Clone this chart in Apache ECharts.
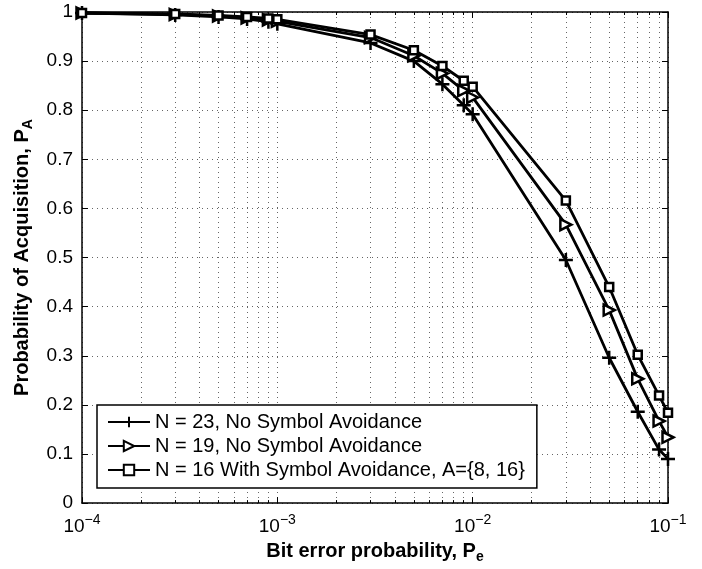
<!DOCTYPE html>
<html>
<head>
<meta charset="utf-8">
<script src="https://cdn.jsdelivr.net/npm/echarts@6/dist/echarts.min.js"></script>
<style>
html, body { margin: 0; padding: 0; background: #fff; }
#main { width: 702px; height: 569px; }
</style>
</head>
<body>
<div id="main"></div>
<script>
// bit error probability (x, log scale)
var pe = [1e-4, 3e-4, 5e-4, 7e-4, 9e-4, 1e-3, 3e-3, 5e-3, 7e-3, 9e-3, 1e-2, 3e-2, 5e-2, 7e-2, 9e-2, 1e-1];
// probability of acquisition
var n23 = [0.998, 0.994, 0.990, 0.986, 0.980, 0.976, 0.937, 0.900, 0.853, 0.810, 0.792, 0.495, 0.296, 0.186, 0.109, 0.090];
var n19 = [0.998, 0.995, 0.992, 0.988, 0.984, 0.981, 0.948, 0.911, 0.875, 0.840, 0.826, 0.567, 0.393, 0.253, 0.167, 0.134];
var n16 = [0.998, 0.996, 0.993, 0.990, 0.987, 0.985, 0.954, 0.922, 0.890, 0.860, 0.848, 0.616, 0.440, 0.302, 0.219, 0.184];
var names = ['N = 23, No Symbol Avoidance', 'N = 19, No Symbol Avoidance', 'N = 16 With Symbol Avoidance, A={8, 16}'];

var FONT = '"Liberation Sans", Arial, Helvetica, sans-serif';
var PLUS = 'path://M0,5L10,5M5,0L5,10';

function pairs(ys) {
    return pe.map(function (x, i) { return [x, ys[i]]; });
}

var gridDots = { show: true, lineStyle: { color: '#666', width: 1, type: [1, 4] } };

var chart = echarts.init(document.getElementById('main'), null, { renderer: 'canvas' });

function lineSeries(name, ys, symbol, size, rotate) {
    return {
        name: name,
        type: 'line',
        data: pairs(ys),
        symbol: symbol,
        symbolSize: size,
        symbolRotate: rotate || 0,
        showAllSymbol: true,
        lineStyle: { color: '#000', width: 2.8 },
        itemStyle: { color: symbol === PLUS ? 'none' : '#fff', borderColor: '#000', borderWidth: 2.5 },
        emphasis: { disabled: true },
        animation: false
    };
}

chart.setOption({
    animation: false,
    textStyle: { fontFamily: FONT },
    grid: { left: 82, right: 34, top: 12, bottom: 61 },
    xAxis: [{
        type: 'log',
        logBase: 10,
        min: 1e-4,
        max: 1e-1,
        axisLine: { show: true, lineStyle: { color: '#000', width: 1.5 } },
        axisTick: { show: true, inside: true, length: 6, lineStyle: { color: '#000' } },
        minorTick: { show: true, splitNumber: 9, length: 3, lineStyle: { color: '#000' } },
        splitLine: gridDots,
        minorSplitLine: gridDots,
        axisLabel: {
            margin: 10,
            color: '#000',
            formatter: function (v) {
                var e = Math.round(Math.log(v) / Math.LN10);
                return '{b|10}{s|\u2212' + Math.abs(e) + '}';
            },
            rich: {
                b: { fontSize: 19, fontFamily: FONT, color: '#000', verticalAlign: 'bottom' },
                s: { fontSize: 14, fontFamily: FONT, color: '#000', verticalAlign: 'bottom', padding: [0, 0, 9, 0] }
            }
        },
        name: '{b|Bit error probability, P}{s|e}',
        nameLocation: 'middle',
        nameGap: 34,
        nameTextStyle: {
            rich: {
                b: { fontSize: 20, fontWeight: 'bold', fontFamily: FONT, color: '#000', verticalAlign: 'top' },
                s: { fontSize: 14, fontWeight: 'bold', fontFamily: FONT, color: '#000', verticalAlign: 'top', padding: [9, 0, 0, 0] }
            }
        }
    }, {
        type: 'log',
        logBase: 10,
        min: 1e-4,
        max: 1e-1,
        position: 'top',
        axisLine: { show: true, onZero: false, lineStyle: { color: '#000', width: 1.5 } },
        axisTick: { show: true, inside: true, length: 6, lineStyle: { color: '#000' } },
        minorTick: { show: true, splitNumber: 9, length: 3, lineStyle: { color: '#000' } },
        axisLabel: { show: false },
        splitLine: { show: false }
    }],
    yAxis: [{
        type: 'value',
        min: 0,
        max: 1,
        interval: 0.1,
        axisLine: { show: true, lineStyle: { color: '#000', width: 1.5 } },
        axisTick: { show: true, inside: true, length: 6, lineStyle: { color: '#000' } },
        splitLine: gridDots,
        axisLabel: { color: '#000', fontSize: 19, margin: 9, fontFamily: FONT },
        name: '{b|Probability of Acquisition, P}{s|A}',
        nameLocation: 'middle',
        nameGap: 47,
        nameTextStyle: {
            rich: {
                b: { fontSize: 20, fontWeight: 'bold', fontFamily: FONT, color: '#000', verticalAlign: 'top' },
                s: { fontSize: 14, fontWeight: 'bold', fontFamily: FONT, color: '#000', verticalAlign: 'top', padding: [9, 0, 0, 0] }
            }
        }
    }, {
        type: 'value',
        min: 0,
        max: 1,
        interval: 0.1,
        position: 'right',
        axisLine: { show: true, lineStyle: { color: '#000', width: 1.5 } },
        axisTick: { show: true, inside: true, length: 6, lineStyle: { color: '#000' } },
        axisLabel: { show: false },
        splitLine: { show: false }
    }],
    legend: {
        orient: 'vertical',
        left: 97,
        top: 405,
        data: names,
        itemWidth: 42,
        itemHeight: 13,
        itemGap: 4,
        padding: [7, 12, 8, 10],
        backgroundColor: '#fff',
        borderColor: '#000',
        borderWidth: 1.5,
        borderRadius: 0,
        textStyle: { color: '#000', fontSize: 20, fontFamily: FONT, lineHeight: 20 },
        selectedMode: false
    },
    series: [
        lineSeries(names[0], n23, PLUS, 14),
        lineSeries(names[1], n19, 'triangle', 11, -90),
        lineSeries(names[2], n16, 'rect', 8)
    ]
});
</script>
</body>
</html>
